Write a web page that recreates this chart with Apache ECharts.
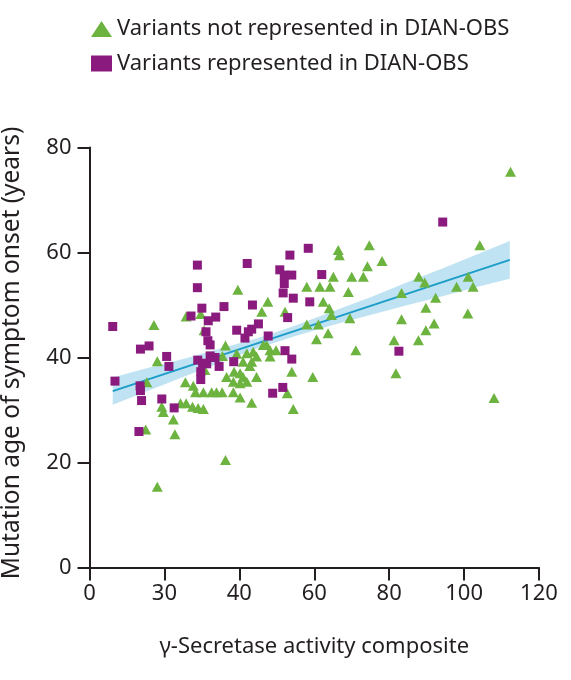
<!DOCTYPE html>
<html>
<head>
<meta charset="utf-8" />
<title>Mutation age of symptom onset vs secretase activity</title>
<script src="https://cdn.jsdelivr.net/npm/echarts@6/dist/echarts.min.js"></script>
<style>
  html, body { margin: 0; padding: 0; background: #fff; }
  #main { width: 571px; height: 680px; }
</style>
</head>
<body>
<div id="main"></div>
<script>
// x values are placed on the printed (evenly spaced) scale; its 2nd tick reads "30"
var notRepresented = [
  [39.6,52.9],[25.8,47.8],[29.7,48.3],[17.2,46.2],[30.6,45.2],[36.3,42.3],[18.1,39.3],
  [39.3,40.7],[35.5,40.3],[15.3,35.3],[25.6,35.3],[27.7,34.6],[30.8,37.6],[36.6,36.3],
  [38.6,37.3],[38.4,35.4],[28.3,33.4],[30.4,33.4],[32.6,33.4],[33.9,33.4],[35.4,33.4],
  [38.4,33.4],[40.2,32.4],[24.3,31.3],[25.8,31.3],[27.5,30.6],[29.0,30.4],[30.4,30.2],
  [19.3,30.6],[19.7,29.6],[22.4,28.2],[15.0,26.3],[22.8,25.4],[36.3,20.5],[18.1,15.4],
  [66.4,60.5],[66.7,59.5],[47.6,50.6],[46.0,48.7],[52.2,48.7],[58.0,53.5],[61.5,53.5],
  [64.2,53.5],[65.1,55.4],[70.0,55.4],[69.1,52.5],[62.4,50.6],[64.0,49.4],[64.6,48.1],
  [69.5,47.5],[58.0,46.3],[61.1,46.3],[63.7,44.6],[60.6,43.5],[71.1,41.4],[42.0,40.8],
  [43.7,41.1],[46.4,42.4],[47.3,42.4],[48.2,41.4],[49.8,41.4],[44.6,40.2],[48.2,40.2],
  [41.0,39.2],[43.3,39.2],[41.0,36.3],[44.6,36.3],[42.8,38.4],[54.0,37.3],[59.6,36.3],
  [40.2,35.1],[52.8,33.2],[43.3,31.4],[54.4,30.2],[40.2,37.0],[42.0,35.4],
  [112.4,75.4],[104.2,61.4],[74.7,61.4],[78.1,58.4],[74.2,57.4],[73.1,55.4],[87.9,55.4],
  [89.5,54.3],[101.1,55.4],[98.0,53.5],[102.4,53.5],[83.3,52.3],[92.4,51.4],[89.8,49.5],
  [101.0,48.4],[83.3,47.3],[92.0,46.5],[89.8,45.2],[81.3,43.3],[87.8,43.3],[81.8,37.0],
  [108.0,32.3]
];
var represented = [
  [28.8,57.6],[28.8,53.3],[30.0,49.4],[27.1,47.9],[35.9,49.7],[31.7,47.0],[33.7,47.7],
  [39.3,45.2],[31.1,44.9],[31.6,43.2],[32.2,42.4],[6.2,45.9],[13.6,41.6],[15.9,42.2],
  [20.6,40.2],[21.2,38.3],[6.8,35.5],[13.5,34.6],[13.6,33.7],[13.9,31.8],[19.3,32.1],
  [22.6,30.4],[13.2,25.9],[28.9,39.5],[30.2,38.9],[31.3,38.8],[32.2,40.3],[33.5,40.0],
  [34.6,38.3],[29.7,37.3],[29.7,35.8],[38.5,39.2],
  [58.4,60.8],[53.5,59.5],[42.1,57.9],[50.8,56.7],[52.0,55.7],[54.0,55.7],[52.0,54.1],
  [62.0,55.8],[51.7,52.3],[54.4,51.3],[58.8,50.6],[43.5,50.0],[52.9,47.6],[45.1,46.4],
  [43.3,45.4],[42.4,44.9],[41.5,43.7],[47.7,44.1],[52.2,41.3],[54.0,39.7],[51.6,34.3],
  [48.9,33.2],[94.3,65.8],[82.6,41.2]
];
var xTickLabels = ['0', '30', '40', '60', '80', '100', '120'];
var fitX = [6.2, 112.2];
var fitY = [33.6, 58.6];
var bandX = [6.2, 15, 25, 35, 45, 55, 65, 75, 85, 95, 105, 112.2];
var bandLow = [31.0, 33.5, 36.3, 39.1, 41.8, 44.1, 46.2, 48.1, 50.0, 51.8, 53.7, 55.0];
var bandHigh = [36.2, 37.9, 39.7, 41.7, 43.7, 46.1, 48.8, 51.5, 54.4, 57.2, 60.1, 62.2];

var ink = '#231f20';
var font = 'Noto Sans';

var chart = echarts.init(document.getElementById('main'));

chart.setOption({
  animation: false,
  textStyle: { fontFamily: font, color: ink },
  legend: {
    orient: 'vertical',
    left: 86,
    top: 13,
    itemWidth: 21,
    itemHeight: 16,
    itemGap: 12.5,
    textStyle: { fontFamily: font, fontSize: 22, lineHeight: 22, color: ink },
    data: [
      { name: 'Variants not represented in DIAN-OBS', icon: 'triangle' },
      { name: 'Variants represented in DIAN-OBS', icon: 'rect' }
    ]
  },
  grid: { left: 89.5, right: 32, top: 147.5, bottom: 112.5, outerBoundsMode: 'none', containLabel: false },
  xAxis: {
    type: 'value',
    min: 0,
    max: 120,
    interval: 20,
    name: 'γ-Secretase activity composite',
    nameLocation: 'middle',
    nameGap: 68,
    nameTextStyle: { fontFamily: font, fontSize: 22, color: ink },
    splitLine: { show: false },
    axisLine: { lineStyle: { color: ink, width: 2 } },
    axisTick: { length: 13, lineStyle: { color: ink, width: 2 } },
    axisLabel: {
      fontFamily: font, fontSize: 22, color: ink, margin: 15,
      formatter: function (v) { return xTickLabels[Math.round(v / 20)]; }
    }
  },
  yAxis: {
    type: 'value',
    min: 0,
    max: 80,
    interval: 20,
    name: 'Mutation age of symptom onset (years)',
    nameLocation: 'middle',
    nameGap: 65,
    nameTextStyle: { fontFamily: font, fontSize: 24.5, color: ink, padding: [0, 0, 0, 9] },
    splitLine: { show: false },
    axisLine: { show: true, lineStyle: { color: ink, width: 2 } },
    axisTick: { show: true, length: 12, lineStyle: { color: ink, width: 2 } },
    axisLabel: { fontFamily: font, fontSize: 22, color: ink, margin: 18 }
  },
  series: [
    {
      name: 'band',
      type: 'custom',
      silent: true,
      z: 1,
      data: [[bandX[0], bandLow[0]]],
      renderItem: function (params, api) {
        var pts = [];
        for (var i = 0; i < bandX.length; i++) pts.push(api.coord([bandX[i], bandHigh[i]]));
        for (var j = bandX.length - 1; j >= 0; j--) pts.push(api.coord([bandX[j], bandLow[j]]));
        return {
          type: 'polygon',
          shape: { points: pts },
          style: { fill: '#bfe3f2' }
        };
      }
    },
    {
      name: 'fit',
      type: 'line',
      silent: true,
      z: 2,
      symbol: 'none',
      lineStyle: { color: '#1b9cc9', width: 2 },
      data: fitX.map(function (x, i) { return [x, fitY[i]]; })
    },
    {
      name: 'Variants not represented in DIAN-OBS',
      type: 'scatter',
      z: 3,
      symbol: 'triangle',
      symbolSize: [11, 10],
      itemStyle: { color: '#6cb33f', opacity: 1 },
      data: notRepresented
    },
    {
      name: 'Variants represented in DIAN-OBS',
      type: 'scatter',
      z: 4,
      symbol: 'rect',
      symbolSize: 9,
      itemStyle: { color: '#8a1a7e', opacity: 1 },
      data: represented
    }
  ]
});
</script>
</body>
</html>
